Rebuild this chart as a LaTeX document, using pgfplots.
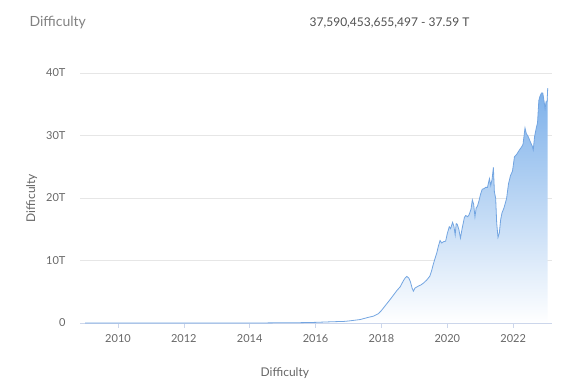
\documentclass[border=0pt]{standalone}
\usepackage{fontspec}
\setmainfont{Lato}
\usepackage{pgfplots}
\usepackage{pgfplotstable}
\pgfplotsset{compat=1.18}
\definecolor{gridc}{RGB}{230,230,230}
\definecolor{axisc}{RGB}{204,214,235}
\definecolor{txt}{RGB}{102,102,102}
\definecolor{ttl}{RGB}{130,130,130}
\definecolor{val}{RGB}{80,80,80}
\definecolor{linec}{RGB}{115,165,225}
\definecolor{fillc}{RGB}{124,176,234}
\pgfplotstableread{
x y
2009.0 0
2010.0 0
2011.0 0.000001
2012.0 0.0000015
2013.0 0.000003
2014.0 0.0014
2014.5 0.013
2015.0 0.04
2015.5 0.05
2016.0 0.1
2016.5 0.2
2016.85 0.25
2017.0 0.32
2017.35 0.55
2017.6 0.9
2017.76 1.1
2017.91 1.5
2018.0 2.0
2018.06 2.4
2018.15 3.0
2018.27 3.8
2018.37 4.5
2018.47 5.2
2018.57 5.8
2018.67 6.8
2018.72 7.2
2018.77 7.45
2018.83 7.2
2018.88 6.6
2018.93 5.6
2018.97 5.1
2019.02 5.6
2019.12 5.9
2019.2 6.1
2019.28 6.4
2019.38 6.9
2019.47 7.5
2019.52 8.3
2019.57 9.3
2019.62 10.2
2019.68 11.2
2019.73 12.3
2019.78 13.2
2019.83 12.8
2019.88 13.0
2019.95 13.1
2020.0 14.3
2020.06 15.4
2020.1 15.1
2020.16 16.1
2020.2 15.5
2020.24 14.1
2020.27 15.9
2020.3 15.8
2020.35 15.0
2020.4 13.6
2020.45 15.1
2020.52 16.9
2020.56 17.2
2020.62 17.0
2020.66 17.3
2020.72 18.2
2020.76 19.7
2020.8 19.0
2020.84 17.0
2020.88 18.5
2020.91 18.6
2020.96 19.5
2021.01 20.6
2021.06 21.4
2021.12 21.5
2021.16 21.7
2021.22 21.7
2021.28 23.1
2021.32 22.0
2021.36 23.0
2021.4 24.9
2021.43 21.0
2021.47 19.9
2021.5 16.0
2021.54 13.7
2021.58 14.4
2021.62 16.5
2021.66 17.6
2021.72 18.4
2021.8 19.9
2021.86 22.3
2021.92 23.6
2021.98 24.3
2022.04 26.6
2022.11 27.0
2022.18 27.6
2022.26 28.2
2022.3 28.6
2022.36 31.2
2022.4 30.3
2022.46 29.8
2022.52 29.0
2022.58 28.3
2022.61 27.7
2022.65 29.8
2022.71 31.4
2022.74 32.0
2022.78 35.6
2022.81 36.2
2022.86 36.8
2022.9 36.8
2022.94 35.4
2022.97 34.3
2023.0 35.4
2023.03 35.4
2023.05 37.59
}\difficulty
\begin{document}
\begin{tikzpicture}[x=1pt,y=1pt]
\path[use as bounding box] (0,0) rectangle (583,387);
\node[anchor=west, text=ttl, font=\fontsize{14}{16}\selectfont] at (26,364) {Difficulty};
\node[anchor=east, text=val, font=\fontsize{12}{14}\selectfont] at (473,364) {37,590,453,655,497 - 37.59 T};
\begin{axis}[
  at={(80pt,64pt)}, anchor=south west,
  scale only axis, width=472pt, height=250pt,
  xmin=2008.846, xmax=2023.18, ymin=0, ymax=40,
  axis x line*=bottom, axis y line*=left,
  x axis line style={draw=axisc},
  y axis line style={draw=none},
  xtick={2010,2012,2014,2016,2018,2020,2022},
  xticklabels={2010,2012,2014,2016,2018,2020,2022},
  ytick={0,10,20,30,40},
  yticklabels={0,10T,20T,30T,40T},
  x tick style={draw=axisc, line width=0.6pt},
  y tick style={draw=none},
  major tick length=5pt,
  tick align=outside,
  ymajorgrids, grid style={draw=gridc, line width=0.6pt},
  tick label style={text=txt, font=\fontsize{11}{13}\selectfont},
  xticklabel style={yshift=-3pt},
  yticklabel style={xshift=-6pt},
  xlabel={Difficulty}, ylabel={Difficulty},
  label style={text=txt, font=\fontsize{12}{14}\selectfont},
  xlabel style={at={(axis description cs:0.434,-0.2)}, anchor=center},
  ylabel style={at={(axis description cs:-0.102,0.5)}, anchor=center},
  clip=false,
]
\addplot[draw=none, top color=fillc, bottom color=white] table {\difficulty} \closedcycle;
\addplot[draw=linec, line width=0.8pt] table {\difficulty};
\end{axis}
\end{tikzpicture}
\end{document}
